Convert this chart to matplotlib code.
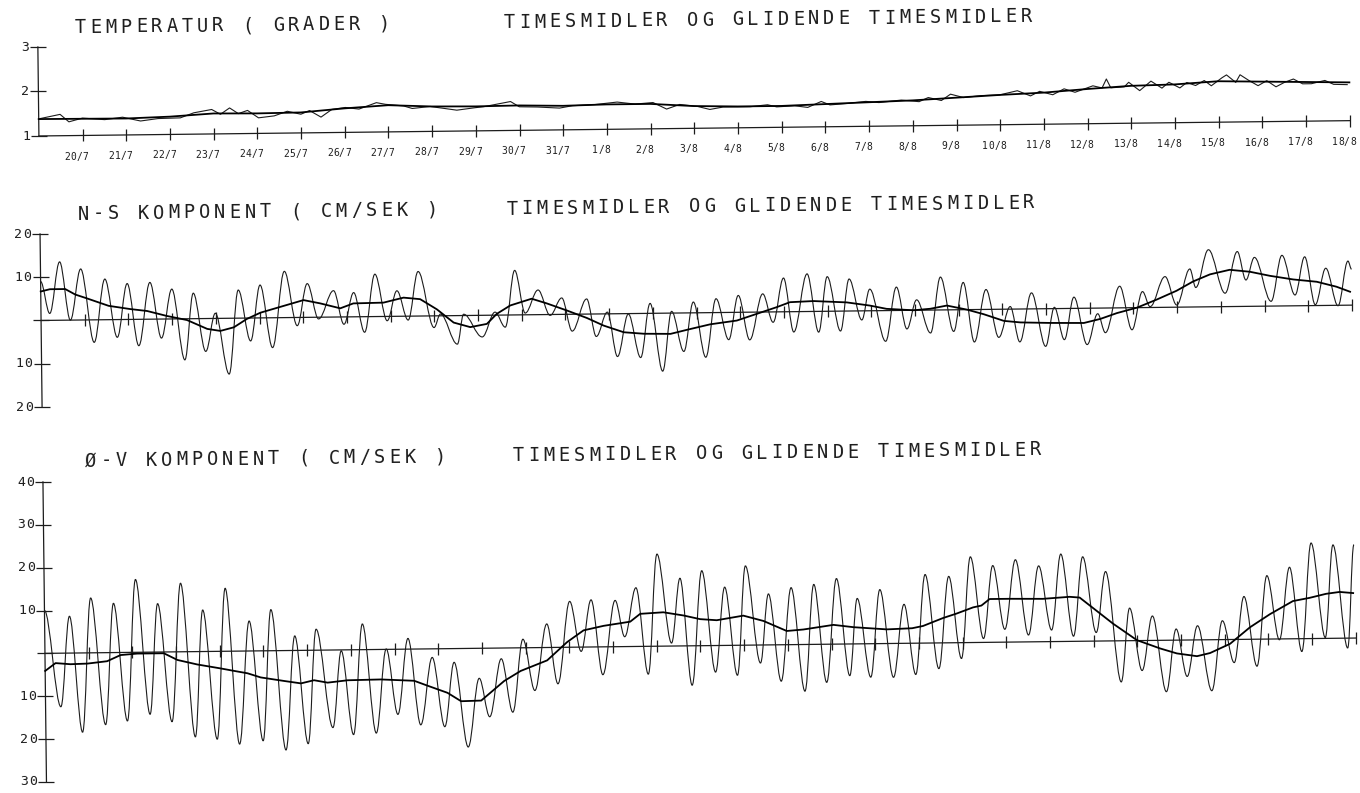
import numpy as np
import matplotlib.pyplot as plt
from matplotlib.path import Path
from matplotlib.patches import PathPatch
from matplotlib.transforms import Affine2D

W, H = 1360, 793
INK = "#1c1c1c"
FONT = "DejaVu Sans Mono"

# date labels under the temperature axis (one per day)
day_labels = ["20/7", "21/7", "22/7", "23/7", "24/7", "25/7", "26/7", "27/7",
              "28/7", "29/7", "30/7", "31/7", "1/8", "2/8", "3/8", "4/8", "5/8",
              "6/8", "7/8", "8/8", "9/8", "10/8", "11/8", "12/8", "13/8",
              "14/8", "15/8", "16/8", "17/8", "18/8"]

# temperature, hourly means (days after 19/7)
temp_t = [0.03, 0.49, 0.69, 1.0, 1.51, 1.92, 2.33, 2.73, 3.24, 3.55, 3.96, 4.16,
          4.37, 4.57, 4.78, 5.03, 5.39, 5.69, 6.0, 6.2, 6.46, 6.71, 7.02, 7.33,
          7.73, 7.94, 8.35, 8.55, 8.96, 9.57, 9.98, 10.18, 10.8, 11.0, 11.41,
          11.92, 12.22, 12.73, 13.24, 13.65, 14.06, 14.37, 14.67, 15.08, 15.36,
          15.66, 16.28, 16.68, 16.89, 17.3, 17.6, 17.91, 18.11, 18.52, 18.93,
          19.23, 19.74, 20.15, 20.36, 20.66, 20.87, 21.17, 21.58, 21.99, 22.4,
          22.7, 22.91, 23.21, 23.47, 23.72, 24.13, 24.34, 24.44, 24.54, 24.85,
          24.95, 25.2, 25.46, 25.71, 25.87, 26.12, 26.28, 26.48, 26.68, 26.84,
          27.09, 27.19, 27.4, 27.5, 27.7, 27.91, 28.11, 28.32, 28.52, 28.72,
          28.93, 29.13, 29.44, 29.64, 29.95]
temp_v = [1.39, 1.48, 1.31, 1.39, 1.35, 1.40, 1.31, 1.36, 1.37, 1.48, 1.55, 1.44,
          1.58, 1.45, 1.52, 1.35, 1.39, 1.49, 1.42, 1.50, 1.35, 1.52, 1.56, 1.52,
          1.66, 1.62, 1.58, 1.52, 1.56, 1.47, 1.52, 1.54, 1.65, 1.53, 1.52,
          1.49, 1.54, 1.56, 1.61, 1.56, 1.59, 1.44, 1.54, 1.49, 1.42,
          1.47, 1.47, 1.51, 1.46, 1.48, 1.44, 1.57, 1.49, 1.52, 1.56,
          1.53, 1.58, 1.54, 1.63, 1.56, 1.70, 1.62, 1.66, 1.67, 1.76,
          1.64, 1.74, 1.66, 1.79, 1.71, 1.85, 1.80, 2.00, 1.80, 1.82,
          1.92, 1.73, 1.94, 1.78, 1.91, 1.78, 1.90, 1.83, 1.94, 1.82,
          2.00, 2.06, 1.89, 2.06, 1.93, 1.81, 1.92, 1.78, 1.88, 1.95,
          1.84, 1.84, 1.91, 1.82, 1.81]

# temperature, running mean
temp_sm_t = [0, 2, 3, 4, 5, 6, 7, 8, 9, 10, 11, 12, 13, 14, 15, 16, 17, 18, 19,
             20, 21, 22, 23, 24, 25, 26, 27, 28, 29, 30]
temp_sm_v = [1.38, 1.37, 1.40, 1.46, 1.45, 1.46, 1.54, 1.60, 1.56, 1.55, 1.56,
             1.54, 1.56, 1.56, 1.50, 1.48, 1.48, 1.51, 1.54, 1.57, 1.62, 1.67,
             1.71, 1.78, 1.84, 1.86, 1.92, 1.90, 1.88, 1.86]

# N-S component, turning points of the hourly means (cm/s)
ns_t = [0.0, 0.2, 0.44, 0.67, 0.92, 1.21, 1.47, 1.74, 1.98, 2.23, 2.5, 2.75, 3.0,
        3.28, 3.49, 3.76, 3.99, 4.29, 4.52, 4.79, 5.02, 5.29, 5.58, 5.86, 6.1,
        6.35, 6.7, 6.93, 7.16, 7.4, 7.65, 7.92, 8.15, 8.4, 8.64, 8.99, 9.14,
        9.52, 9.67, 10.09, 10.39, 10.62, 10.85, 11.08, 11.38, 11.65, 11.92,
        12.15, 12.49, 12.7, 12.96, 13.18, 13.44, 13.71, 13.94, 14.21, 14.43,
        14.7, 14.93, 15.2, 15.45, 15.73, 15.96, 16.21, 16.52, 16.75, 17.0,
        17.22, 17.54, 17.79, 18.0, 18.29, 18.5, 18.78, 18.97, 19.32, 19.58,
        19.81, 20.04, 20.35, 20.59, 20.88, 21.11, 21.35, 21.63, 21.91, 22.18,
        22.39, 22.67, 22.98, 23.19, 23.41, 23.64, 23.93, 24.18, 24.35, 24.69,
        24.96, 25.21, 25.38, 25.73, 25.99, 26.3, 26.43, 26.73, 27.1, 27.39,
        27.58, 27.78, 28.15, 28.41, 28.7, 28.93, 29.16, 29.41, 29.68, 29.92,
        30.0]
ns_v = [9.0, 1.6, 13.5, 0.0, 11.8, -5.2, 9.4, -4.1, 8.3, -6.1, 8.5, -4.4, 6.9,
        -9.5, 5.9, -7.6, 1.2, -12.9, 6.5, -5.3, 7.6, -6.9, 10.7, -1.9, 7.8,
        -0.4, 6.1, -1.7, 5.6, -3.6, 9.8, -1.0, 5.9, -0.9, 10.3, -2.7, 0.4,
        -6.6, 0.3, -5.0, 0.7, -2.8, 10.3, 0.4, 5.7, -0.2, 3.8,
        -3.9, 3.5, -5.2, 0.4, -9.9, -0.1, -10.2, 2.3, -13.4, 0.4,
        -8.9, 2.5, -10.3, 3.2, -6.3, 3.9, -6.4, 4.2, -2.4, 7.8,
        -4.7, 8.7, -4.8, 8.0, -4.6, 7.4, -2.1, 5.0, -7.1, 5.4,
        -4.3, 2.4, -5.3, 7.6, -5.0, 6.3, -7.5, 4.6, -6.5, 0.6,
        -7.6, 3.7, -8.7, 0.3, -7.2, 2.6, -8.4, -1.3, -5.7, 5.0,
        -5.1, 3.7, 0.2, 7.1, 0.5, 8.8, 4.5, 13.2, 3.1, 12.7,
        6.1, 11.3, 1.1, 11.7, 2.5, 11.3, 0.2, 8.6, -0.1, 10.2,
        8.3]

# N-S component, running mean
ns_sm_t = [0.0, 0.21, 0.56, 0.79, 1.05, 1.55, 2.04, 2.43, 2.88, 3.34, 3.8, 4.1,
           4.41, 4.71, 5.02, 5.55, 6.01, 6.39, 6.85, 7.15, 7.84, 8.3, 8.68,
           9.06, 9.44, 9.82, 10.2, 10.43, 10.74, 11.23, 11.57, 12.03, 12.49,
           12.87, 13.33, 13.79, 14.4, 14.78, 15.31, 15.92, 16.38, 16.84, 17.14,
           17.68, 18.44, 18.97, 19.35, 19.97, 20.35, 20.73, 21.19, 21.57, 22.03,
           22.41, 23.09, 23.86, 24.24, 24.62, 25.08, 25.53, 25.99, 26.37, 26.76,
           27.21, 27.67, 28.13, 28.66, 29.2, 29.65, 29.96]
ns_sm_v = [6.7, 7.2, 7.2, 5.9, 5.0, 3.2, 2.4, 1.9, 0.7, -0.3, -2.4, -2.9,
           -2.1, -0.2, 1.2, 2.7, 4.0, 3.2, 2.0, 3.1, 3.2, 4.3, 3.9,
           1.5, -1.6, -2.7, -2.0, 0.3, 2.2, 3.7, 2.6, 0.9, -0.9,
           -2.7, -4.3, -4.7, -4.8, -3.9, -2.7, -1.9, -0.4, 1.1, 2.2,
           2.4, 2.0, 1.2, 0.4, 0.0, 0.3, 1.0, 0.0, -1.1, -2.7,
           -3.1, -3.3, -3.4, -2.5, -1.2, 0.0, 1.8, 3.8, 5.9, 7.5,
           8.5, 8.0, 7.0, 6.1, 5.5, 4.3, 3.1]

# E-W component, turning points of the hourly means (cm/s)
ov_t = [0.0, 0.35, 0.57, 0.84, 1.06, 1.37, 1.58, 1.87, 2.09, 2.39, 2.59, 2.89,
        3.12, 3.42, 3.62, 3.92, 4.14, 4.43, 4.68, 4.97, 5.18, 5.49, 5.72, 6.0,
        6.21, 6.57, 6.78, 7.04, 7.27, 7.56, 7.81, 8.06, 8.31, 8.58, 8.86, 9.13,
        9.36, 9.66, 9.93, 10.16, 10.44, 10.69, 10.94, 11.2, 11.49, 11.73,
        12.02, 12.27, 12.51, 12.76, 13.06, 13.27, 13.54, 13.8, 14.03, 14.34,
        14.55, 14.8, 15.05, 15.34, 15.57, 15.84, 16.05, 16.37, 16.57, 16.84,
        17.09, 17.38, 17.61, 17.88, 18.13, 18.41, 18.6, 18.89, 19.12, 19.41,
        19.67, 19.92, 20.16, 20.45, 20.7, 20.97, 21.2, 21.48, 21.71, 21.97,
        22.23, 22.51, 22.76, 23.04, 23.27, 23.54, 23.77, 24.06, 24.29, 24.62,
        24.83, 25.1, 25.35, 25.65, 25.89, 26.13, 26.38, 26.69, 26.95, 27.21,
        27.45, 27.73, 27.98, 28.25, 28.5, 28.76, 29.0, 29.3, 29.5, 29.81,
        29.98]
ov_v = [10.0, -12.5, 8.6, -18.5, 12.8, -16.8, 11.5, -16.0, 17.0, -14.5, 11.3,
        -16.3, 16.0, -19.9, 9.7, -20.5, 14.7, -21.7, 7.0, -21.0, 9.6, -23.2,
        3.4, -21.8, 4.9, -18.1, -0.2, -19.8, 6.0, -19.5, 0.1, -15.2, 2.5,
        -17.7, -2.0, -18.2, -3.2, -23.0, -7.0, -16.0, -2.5, -15.0, 2.0, -10.0,
        5.5, -8.5, 10.7, -1.0, 11.0, -6.5, 10.8, 2.3, 13.7, -6.5, 21.5, 0.7,
        15.8, -9.2, 17.5, -6.2, 13.6, -7.0, 18.5, -4.2, 11.9, -8.5, 13.3,
        -10.9, 14.0, -8.9, 15.3, -7.4, 10.6, -7.8, 12.6, -7.9, 9.1, -7.3,
        16.0, -6.0, 15.5, -3.7, 20.0, 0.9, 17.9, 3.0, 19.2, 1.6, 17.7, 2.7,
        20.4, 1.2, 19.7, 2.0, 16.2, -9.6, 7.6, -7.0, 5.7, -12.0, 2.6, -8.5,
        3.3, -11.9, 4.4, -5.4, 10.0, -6.3, 14.8, -0.2, 16.7, -3.0, 22.3, 0.2,
        21.8, -2.3, 21.8]

# E-W component, running mean
ov_sm_t = [0.0, 0.24, 0.58, 0.97, 1.42, 1.73, 2.11, 2.72, 3.03, 3.48, 4.02, 4.32,
           4.63, 4.93, 5.47, 5.85, 6.15, 6.46, 6.92, 7.68, 8.44, 8.75, 9.2,
           9.51, 9.97, 10.5, 10.88, 11.49, 11.95, 12.33, 12.79, 13.4, 13.63,
           14.16, 14.62, 15.0, 15.38, 15.99, 16.45, 16.98, 17.36, 18.05, 18.51,
           19.27, 19.85, 20.1, 20.56, 20.87, 21.25, 21.44, 21.63, 22.09, 22.85,
           23.46, 23.69, 24.07, 24.45, 24.99, 25.52, 25.9, 26.36, 26.66, 27.12,
           27.58, 28.04, 28.57, 28.95, 29.33, 29.64, 29.95]
ov_sm_v = [-4.1, -2.3, -2.6, -2.5, -2.0, -0.6, -0.3, -0.3, -1.9, -3.0, -4.0, -4.6,
           -5.2, -6.2, -7.1, -7.7, -7.0, -7.6, -7.1, -7.0, -7.4, -8.6, -10.3,
           -12.3, -12.2, -7.7, -5.4, -3.0, 1.2, 3.9, 4.9, 5.8, 7.6,
           7.9, 7.1, 6.2, 5.9, 6.9, 5.6, 3.2, 3.5, 4.5, 3.9,
           3.3, 3.5, 4.0, 5.8, 6.8, 8.2, 8.6, 10.1, 10.1, 10.0,
           10.4, 10.2, 7.1, 4.0, 0.1, -1.9, -3.1, -3.8, -3.1, -1.0,
           2.8, 5.8, 8.8, 9.5, 10.4, 10.8, 10.5]

# ---------------------------------------------------------------------------
fig = plt.figure(figsize=(W / 100, H / 100), dpi=100)
fig.patch.set_facecolor("white")

# the whole sheet sits a little rotated
ANGLE = 0.67
skew = Affine2D().rotate_deg_around(W / 2, H / 2, ANGLE)

X0, X1 = 42, 1353          # pixel span of the 30-day axis
PITCH = 15.2               # title letter spacing in pixels


def panel(top_px, bot_px, lo, hi):
    ax = fig.add_axes([X0 / W, 1 - bot_px / H, (X1 - X0) / W, (bot_px - top_px) / H])
    ax.set_xlim(0, 30)
    ax.set_ylim(lo, hi)
    ax.axis("off")
    return ax


def plotter_text(s, xy, xycoords, pitch, size, dx=0.0, dy=0.0):
    # one glyph per pen position, fixed spacing like the plotter font
    for i, ch in enumerate(s):
        if ch == " ":
            continue
        plt.annotate(ch, xy, xycoords=xycoords, xytext=(dx + i * pitch, dy),
                     textcoords="offset pixels", ha="center", va="center",
                     family=FONT, fontsize=size, color=INK,
                     rotation=ANGLE, rotation_mode="anchor", annotation_clip=False)


def title(s, x, y):
    # x, y: pixel position of the first glyph, measured from the top left
    for i, ch in enumerate(s):
        if ch == " ":
            continue
        fig.text(x + i * PITCH, H - y, ch, transform=skew, ha="center", va="center",
                 family=FONT, fontsize=13.5, color=INK,
                 rotation=ANGLE, rotation_mode="anchor")


def frame(ax, ticks, labels, base):
    tr = ax.transData + skew
    kw = dict(color=INK, lw=0.9, transform=tr, clip_on=False)
    ax.plot([0, 0], [min(ticks), max(ticks)], **kw)
    ax.plot([0, 30], [base, base], **kw)
    ax.plot(np.zeros(len(ticks)), ticks, ls="none", marker="_", ms=11, mew=0.9,
            color=INK, transform=tr, clip_on=False)
    days = np.arange(1, 31)
    ax.plot(days, np.full(days.shape, base), ls="none", marker="|", ms=8, mew=0.9,
            color=INK, transform=tr, clip_on=False)
    for v, lab in zip(ticks, labels):
        if lab:
            n = len(lab)
            plotter_text(lab, (0, v), tr, 9, 9.5, dx=-13 - (n - 1) * 9)
    return tr


def tide_curve(ax, tr, t, v, **kw):
    # cubic pieces with level tangents at every turning point
    verts = [(t[0], v[0])]
    codes = [Path.MOVETO]
    for i in range(1, len(t)):
        h = (t[i] - t[i - 1]) * 0.36
        verts += [(t[i - 1] + h, v[i - 1]), (t[i] - h, v[i]), (t[i], v[i])]
        codes += [Path.CURVE4] * 3
    ax.add_patch(PathPatch(Path(verts, codes), fill=False, transform=tr,
                           clip_on=False, **kw))


RAW = dict(color=INK, lw=0.8)
MEAN = dict(color="black", lw=1.3)

# temperature
ax_t = panel(39.5, 128.5, 1, 3)
tr = frame(ax_t, [1, 2, 3], ["1", "2", "3"], 1)
ax_t.plot(temp_t, temp_v, transform=tr, clip_on=False, **RAW)
ax_t.plot(temp_sm_t, temp_sm_v, transform=tr, clip_on=False, **MEAN)
for d, lab in enumerate(day_labels, start=1):
    plotter_text(lab, (d, 1), tr, 6, 7, dx=-6 - (len(lab) - 1) * 3, dy=-21)
title("TEMPERATUR ( GRADER )", 85, 20.5)
title("TIMESMIDLER OG GLIDENDE TIMESMIDLER", 514, 20.5)

# N-S component
ax_ns = panel(226.5, 399.5, -20, 20)
tr = frame(ax_ns, [-20, -10, 0, 10, 20], ["20", "10", "", "10", "20"], 0)
tide_curve(ax_ns, tr, ns_t, ns_v, **RAW)
ax_ns.plot(ns_sm_t, ns_sm_v, transform=tr, clip_on=False, **MEAN)
title("N-S KOMPONENT ( CM/SEK )", 85, 207)
title("TIMESMIDLER OG GLIDENDE TIMESMIDLER", 514, 207)

# E-W component
ax_ov = panel(474.5, 774.5, -30, 40)
tr = frame(ax_ov, [-30, -20, -10, 0, 10, 20, 30, 40],
           ["30", "20", "10", "", "10", "20", "30", "40"], 0)
tide_curve(ax_ov, tr, ov_t, ov_v, **RAW)
ax_ov.plot(ov_sm_t, ov_sm_v, transform=tr, clip_on=False, **MEAN)
title("Ø-V KOMPONENT ( CM/SEK )", 90, 454)
title("TIMESMIDLER OG GLIDENDE TIMESMIDLER", 518, 454)

fig.savefig("out.png", dpi=100, facecolor="white")
